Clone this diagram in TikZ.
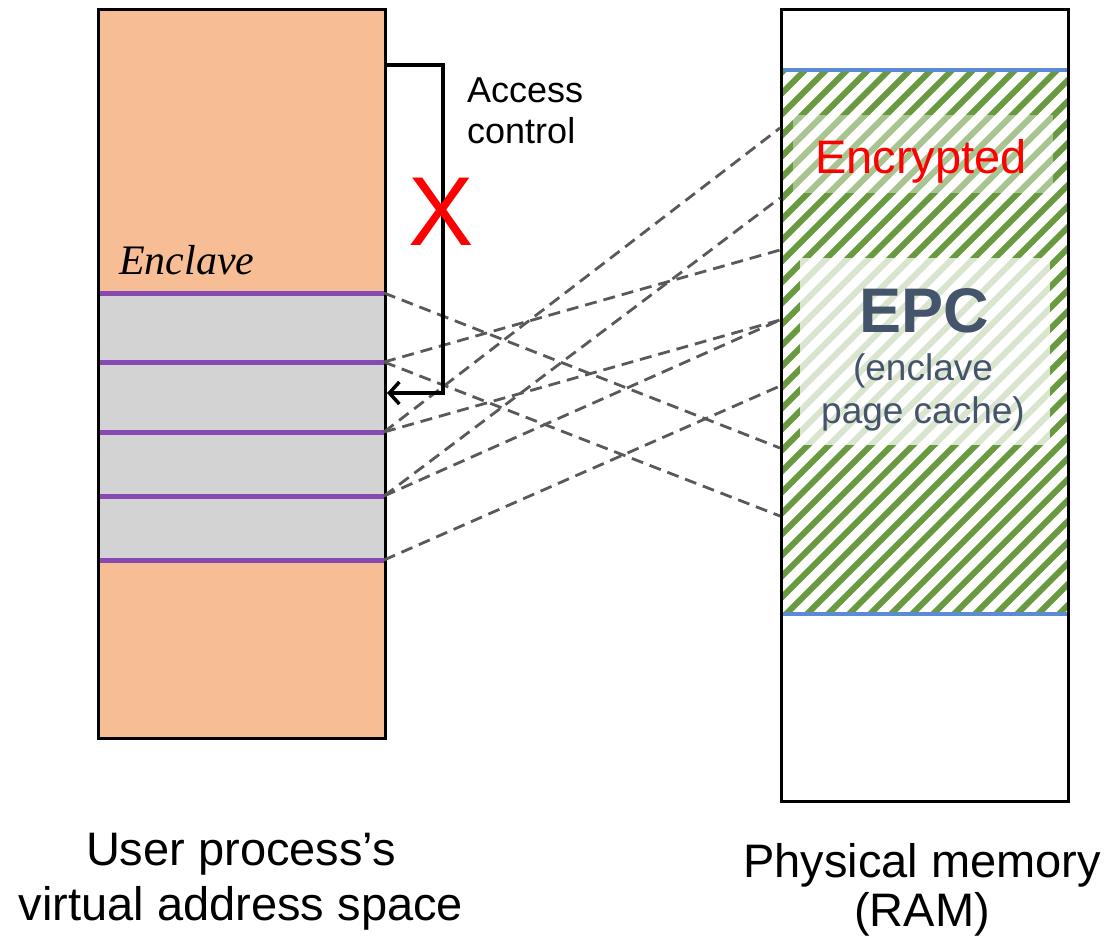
\documentclass[tikz,border=0pt]{standalone}
\usepackage{fontspec}
\setmainfont{Liberation Sans}
\newfontfamily\serifit{Liberation Serif}
\usetikzlibrary{arrows.meta}
\definecolor{vorange}{HTML}{F7BE95}
\definecolor{egrey}{HTML}{D3D3D3}
\definecolor{epurple}{HTML}{8649B1}
\definecolor{eblue}{HTML}{5B8BD5}
\definecolor{egreen}{HTML}{6A9A40}
\definecolor{dashgrey}{HTML}{595959}
\definecolor{slate}{HTML}{44546A}
\tikzset{
  boxline/.style={draw=black, line width=2.6pt},
  pageline/.style={draw=epurple, line width=5pt},
  epcline/.style={draw=eblue, line width=4.5pt},
  stripe/.style={draw=egreen, line width=6pt},
  mapline/.style={draw=dashgrey, line width=2.8pt, dash pattern=on 12pt off 7pt},
  accline/.style={draw=black, line width=3.5pt},
  lbl/.style={inner sep=0pt, anchor=base},
}
\begin{document}
\begin{tikzpicture}[x=1pt, y=-1pt]
\useasboundingbox (0,0) rectangle (1110,940);

% ---------- left: virtual address space ----------
\fill[vorange] (97,8) rectangle (384,737);
\fill[egrey] (97,293) rectangle (384,560);
\foreach \yy in {293,362,432,496,560}
  \draw[pageline] (97,\yy) -- (384,\yy);
\node[boxline, fill=none, inner sep=0pt, minimum width=287pt, minimum height=729pt, anchor=north west] (vas) at (97,8) {};
\node[lbl, anchor=base west, font=\serifit\itshape\fontsize{42}{48}\selectfont] (enclbl) at (119,274) {Enclave};

% ---------- right: physical memory ----------
\fill[white] (780,8) rectangle (1067,800);
\begin{scope}
  \clip (780,70) rectangle (1067,614);
  \foreach \k in {-28,...,15}
    \draw[stripe] ({780+\k*21},620) -- ++(560,-560);
\end{scope}
\fill[white, opacity=0.42] (793,115) rectangle (1053,193);
\fill[white, opacity=0.75] (800,258) rectangle (1050,445);
\draw[epcline] (780,70) -- (1067,70);
\draw[epcline] (780,614) -- (1067,614);
\node[boxline, fill=none, inner sep=0pt, minimum width=287pt, minimum height=792pt, anchor=north west] (ram) at (780,8) {};

\node[lbl, text=red, font=\fontsize{47}{54}\selectfont] (enc) at (921,173) {Encrypted};
\node[lbl, text=slate, font=\bfseries\fontsize{63}{72}\selectfont] (epc) at (924,332) {EPC};
\node[lbl, text=slate, font=\fontsize{37}{42}\selectfont] (epc2) at (923,380) {(enclave};
\node[lbl, text=slate, font=\fontsize{37}{42}\selectfont] (epc3) at (923,423) {page cache)};

% ---------- mapping connectors ----------
\foreach \n/\yy in {1/293,2/362,3/432,4/496,5/560}
  \coordinate (L\n) at (384,\yy);
\foreach \n/\yy in {1/128,2/198,3/250,4/320,5/386,6/448,7/516}
  \coordinate (R\n) at (780,\yy);
\draw[mapline] (L1) -- (R6);
\draw[mapline] (L2) -- (R7);
\draw[mapline] (L2) -- (R3);
\draw[mapline] (L3) -- (R1);
\draw[mapline] (L3) -- (R4);
\draw[mapline] (L4) -- (R2);
\draw[mapline] (L4) -- (R4);
\draw[mapline] (L5) -- (R5);

% ---------- access control ----------
\coordinate (acs) at (384,65);
\coordinate (ac1) at (443,65);
\coordinate (ac2) at (443,393);
\coordinate (ace) at (387,393);
\draw[accline, -{Straight Barb[length=10pt, width=22pt]}] (acs) -- (ac1) -- (ac2) -- (ace);
\node[lbl, anchor=base west, font=\fontsize{36}{42}\selectfont] (acc1) at (467,102) {Access};
\node[lbl, anchor=base west, font=\fontsize{36}{42}\selectfont] (acc2) at (467,143) {control};
\node[lbl, text=red, font=\fontsize{98}{110}\selectfont] (cross) at (441,245) {X};

% ---------- captions ----------
\node[lbl, font=\fontsize{47}{54}\selectfont] (cap1) at (241,865) {User process’s};
\node[lbl, font=\fontsize{47}{54}\selectfont] (cap2) at (241,920) {virtual address space};
\node[lbl, font=\fontsize{47}{54}\selectfont] (cap3) at (922,877) {Physical memory};
\node[lbl, font=\fontsize{47}{54}\selectfont] (cap4) at (922,926) {(RAM)};
\end{tikzpicture}
\end{document}
